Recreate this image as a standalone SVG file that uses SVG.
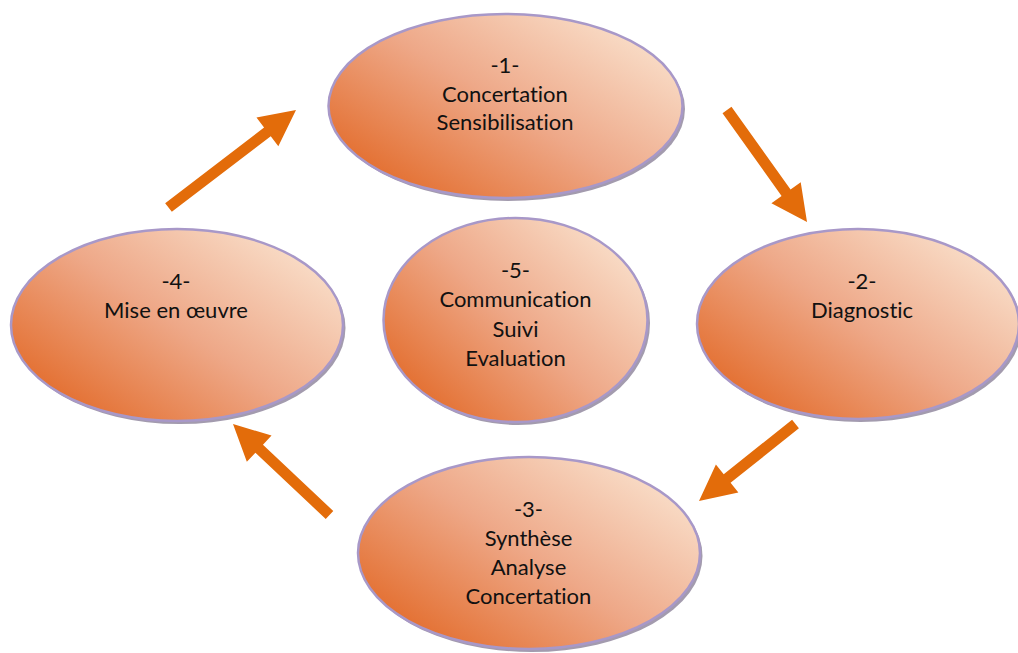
<svg xmlns="http://www.w3.org/2000/svg" width="1018" height="653" viewBox="0 0 1018 653">
  <defs>
    <linearGradient id="fillGrad" x1="0.08" y1="0.85" x2="0.92" y2="0.15">
      <stop offset="0" stop-color="#E36D2D"/>
      <stop offset="0.5" stop-color="#EEA888"/>
      <stop offset="1" stop-color="#F9DEC9"/>
    </linearGradient>
    <style>
      .shadow { fill: #A39BAE; }
      .node { fill: url(#fillGrad); stroke: #A898C8; stroke-width: 2.5; }
      .label { font-family: "Lato", "Liberation Sans", sans-serif; font-size: 22px; fill: #111111; text-anchor: middle; font-variant-ligatures: none; font-feature-settings: "liga" 0; }
      .arrow { fill: #E36C0A; }
    </style>
  </defs>
  <rect width="1018" height="653" fill="#FFFFFF"/>

  <g id="connectors">
    <polygon class="arrow" points="722.52,113.20 781.59,195.90 771.42,203.17 807,222 800.72,182.23 790.55,189.50 731.48,106.80"/>
    <polygon class="arrow" points="792.07,419.70 723.71,474.25 715.91,464.48 699,501 738.37,492.62 730.57,482.85 798.93,428.30"/>
    <polygon class="arrow" points="333.27,511.00 262.96,444.70 271.54,435.60 233,424 246.84,461.80 255.42,452.70 325.73,519.00"/>
    <polygon class="arrow" points="171.84,211.87 270.75,136.24 278.34,146.17 296,110 256.48,117.57 264.07,127.50 165.16,203.13"/>
  </g>

  <g id="node1">
    <ellipse class="shadow" cx="508" cy="109" rx="177" ry="92"/>
    <ellipse class="node" cx="505.5" cy="106" rx="177" ry="92"/>
    <text class="label" x="505" y="73">-1-</text>
    <text class="label" x="505" y="101.5">Concertation</text>
    <text class="label" x="505" y="129.5">Sensibilisation</text>
  </g>

  <g id="node2">
    <ellipse class="shadow" cx="860.5" cy="327" rx="161" ry="95"/>
    <ellipse class="node" cx="858" cy="324" rx="161" ry="95"/>
    <text class="label" x="862" y="289">-2-</text>
    <text class="label" x="862" y="318">Diagnostic</text>
  </g>

  <g id="node3">
    <ellipse class="shadow" cx="531.5" cy="556" rx="171" ry="96"/>
    <ellipse class="node" cx="529" cy="553" rx="171" ry="96"/>
    <text class="label" x="528.5" y="517">-3-</text>
    <text class="label" x="528.5" y="546">Synthèse</text>
    <text class="label" x="528.5" y="575">Analyse</text>
    <text class="label" x="528.5" y="604">Concertation</text>
  </g>

  <g id="node4">
    <ellipse class="shadow" cx="179.5" cy="328" rx="166" ry="96"/>
    <ellipse class="node" cx="177" cy="325" rx="166" ry="96"/>
    <text class="label" x="176" y="289">-4-</text>
    <text class="label" x="176" y="318">Mise en œuvre</text>
  </g>

  <g id="node5">
    <ellipse class="shadow" cx="518" cy="323" rx="132" ry="102"/>
    <ellipse class="node" cx="515.5" cy="320" rx="132" ry="102"/>
    <text class="label" x="515.5" y="278">-5-</text>
    <text class="label" x="515.5" y="307">Communication</text>
    <text class="label" x="515.5" y="337">Suivi</text>
    <text class="label" x="515.5" y="366">Evaluation</text>
  </g>
</svg>
